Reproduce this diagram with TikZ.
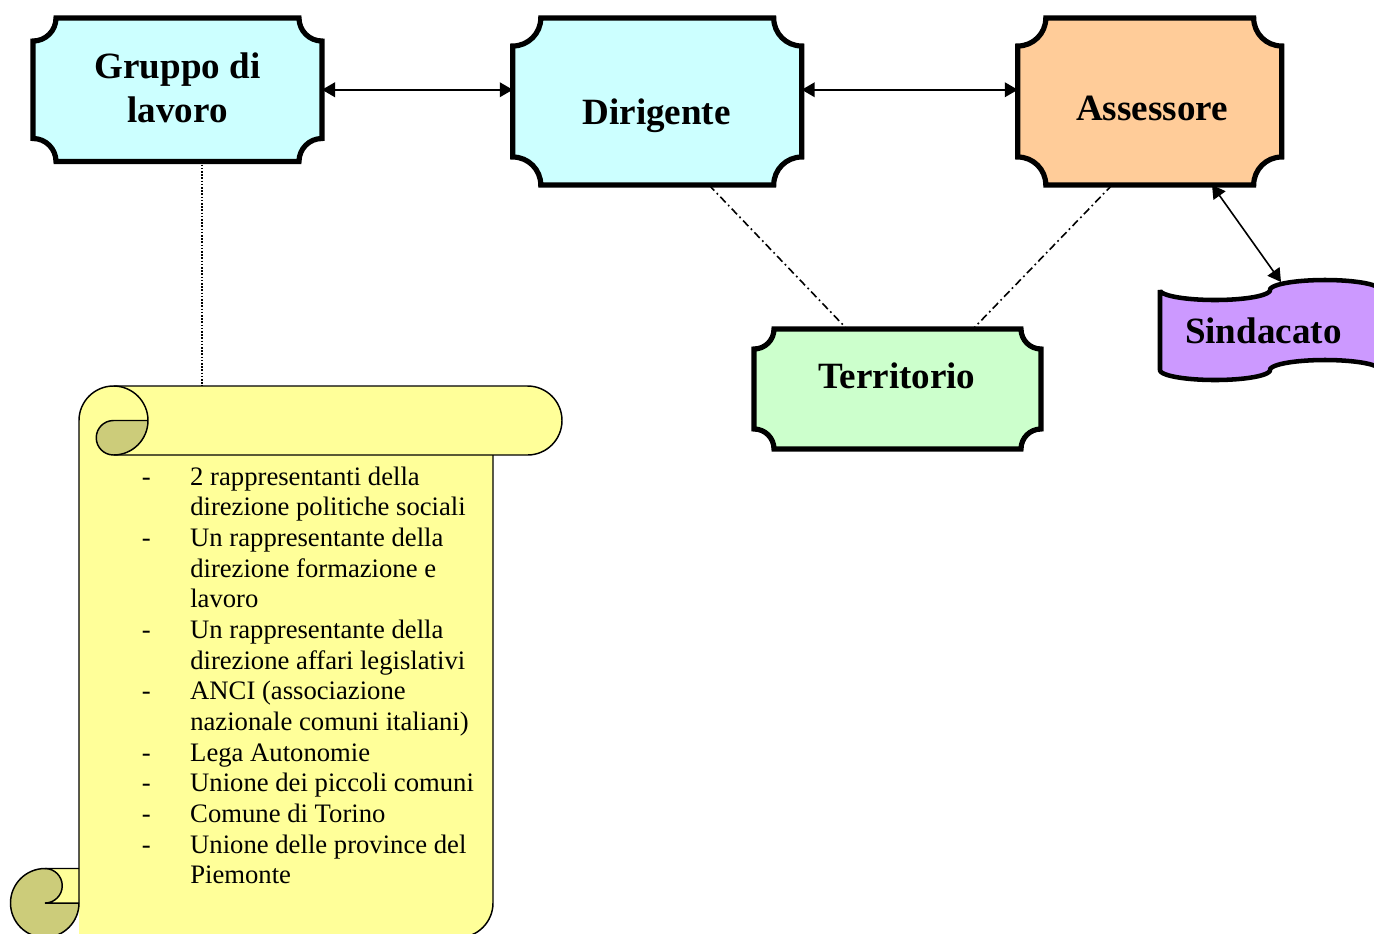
\documentclass[tikz,border=0pt]{standalone}
\usepackage{fontspec}
\setmainfont{Liberation Serif}
\usetikzlibrary{arrows.meta,backgrounds}
\definecolor{azzurro}{HTML}{CCFFFF}
\definecolor{arancio}{HTML}{FFCC99}
\definecolor{verde}{HTML}{CCFFCC}
\definecolor{viola}{HTML}{CC99FF}
\definecolor{giallo}{HTML}{FFFF99}
\definecolor{oliva}{HTML}{CCCC7A}
\newcommand{\targa}[3]{%
  \path[bordo, fill=#2]
    ([xshift=#3]#1.north west) -- ([xshift=-#3]#1.north east)
    arc[start angle=180, end angle=270, radius=#3]
    -- ([yshift=#3]#1.south east)
    arc[start angle=90, end angle=180, radius=#3]
    -- ([xshift=#3]#1.south west)
    arc[start angle=0, end angle=90, radius=#3]
    -- ([yshift=-#3]#1.north west)
    arc[start angle=270, end angle=360, radius=#3]
    -- cycle;}
\newcommand{\testo}[3]{\raisebox{-#2}[0pt][0pt]{\makebox[0pt]{\hspace{#1}#3}}}
\tikzset{
  box/.style={rectangle, inner sep=0pt, outer sep=0pt, font=\fontsize{27.8pt}{33pt}\selectfont\bfseries},
  bordo/.style={draw=black, line width=3.9pt, line join=miter},
  biarrow/.style={{Triangle[length=9.75pt,width=11pt]}-{Triangle[length=9.75pt,width=11pt]}, line width=1.2pt},
  puntini/.style={line width=1.1pt, dash pattern=on 1.1pt off 1.3pt},
  trattopunto/.style={line width=1.2pt, dash pattern=on 5.8pt off 2.6pt on 1.3pt off 2.6pt},
  rotololine/.style={draw=black, line width=1.1pt},
}
\begin{document}
\begin{tikzpicture}[x=0.75pt, y=-0.75pt]
\useasboundingbox (0,0) rectangle (1374,933);
% nodes
\node[box, minimum width=216.75pt, minimum height=107.6pt] (gruppo) at (177.5,89.75)
  {\testo{0pt}{24.2pt}{\begin{tabular}[b]{@{}c@{}}Gruppo di\\lavoro\end{tabular}}};
\node[box, minimum width=216.7pt, minimum height=125.25pt] (dirigente) at (657.25,101.5)
  {\testo{-1pt}{17.6pt}{Dirigente}};
\node[box, minimum width=197.9pt, minimum height=125.25pt] (assessore) at (1149.75,101.5)
  {\testo{3.4pt}{13.9pt}{Assessore}};
\node[box, minimum width=215.25pt, minimum height=90pt] (territorio) at (897.5,389)
  {\testo{-1pt}{-0.5pt}{Territorio}};
\node[box, minimum width=165pt, minimum height=60pt] (sindacato) at (1270,330)
  {\testo{-10pt}{10.3pt}{Sindacato}};
\node[rectangle, inner sep=0pt, minimum width=413.6pt, minimum height=413.6pt] (rotolo) at (286.25,661.75) {};
\node[anchor=base west, inner sep=0pt, font=\fontsize{20pt}{23pt}\selectfont] (elenco) at (141.6,485)
  {\begin{tabular}[t]{@{}p{36.3pt}@{}l@{}}
  - & 2 rappresentanti della\\
    & direzione politiche sociali\\
  - & Un rappresentante della\\
    & direzione formazione e\\
    & lavoro\\
  - & Un rappresentante della\\
    & direzione affari legislativi\\
  - & ANCI (associazione\\
    & nazionale comuni italiani)\\
  - & Lega Autonomie\\
  - & Unione dei piccoli comuni\\
  - & Comune di Torino\\
  - & Unione delle province del\\
    & Piemonte
  \end{tabular}};
% shapes
\begin{scope}[on background layer]
  \fill[white] (0,0) rectangle (1374,933);
  \targa{gruppo}{azzurro}{17.25pt}
  \targa{dirigente}{azzurro}{21pt}
  \targa{assessore}{arancio}{21pt}
  \targa{territorio}{verde}{15pt}
  \path[draw=black, line width=3.4pt, fill=viola]
    plot[domain=0:180, samples=45, variable=\t] ({1215-55*cos(\t)},{290+10*sin(\t)})
    -- plot[domain=0:180, samples=45, variable=\t] ({1325-55*cos(\t)},{290-10*sin(\t)})
    -- plot[domain=0:180, samples=45, variable=\t] ({1325+55*cos(\t)},{370-10*sin(\t)})
    -- plot[domain=0:180, samples=45, variable=\t] ({1215+55*cos(\t)},{370+10*sin(\t)})
    -- cycle;
  % scroll fills
  \fill[giallo] (79,420.5) arc[start angle=180,end angle=90,radius=25.875pt] -- (527.5,386)
    arc[start angle=90,end angle=-90,radius=25.875pt] -- (493,455) -- (493,903)
    arc[start angle=0,end angle=-90,radius=25.875pt] -- (79,937.5) -- cycle;
  \fill[oliva] (113.5,420.5) -- (148,420.5) arc[start angle=0,end angle=-90,radius=25.875pt]
    arc[start angle=-90,end angle=-270,radius=12.9375pt] -- cycle;
  \fill[oliva] (45,903) circle[radius=25.875pt];
  \fill[giallo] (45,868.5) rectangle (79,903);
  \fill[oliva] (45,868.5) arc[start angle=90,end angle=-90,radius=12.9375pt] -- cycle;
  % scroll outlines
  \draw[rotololine] (79,903) -- (79,420.5) arc[start angle=180,end angle=90,radius=25.875pt]
    -- (527.5,386) arc[start angle=90,end angle=-90,radius=25.875pt] -- (113.5,455);
  \draw[rotololine] (493,455) -- (493,903) arc[start angle=0,end angle=-90,radius=25.875pt]
    -- (45,937.5) arc[start angle=-90,end angle=-270,radius=25.875pt] -- (79,868.5);
  \draw[rotololine] (79,903) arc[start angle=0,end angle=-90,radius=25.875pt];
  \draw[rotololine] (45,868.5) arc[start angle=90,end angle=-90,radius=12.9375pt] -- (79,903);
  \draw[rotololine] (113.5,386) arc[start angle=90,end angle=-90,radius=25.875pt]
    arc[start angle=-90,end angle=-270,radius=12.9375pt] -- (148,420.5);
\end{scope}
% connectors
\draw[biarrow] (gruppo.east) -- (gruppo.east -| dirigente.west);
\draw[biarrow] (dirigente.east |- gruppo.east) -- (gruppo.east -| assessore.west);
\draw[biarrow] ([xshift=46.7pt]assessore.south) -- ([xshift=8.25pt,yshift=6pt]sindacato.north);
\draw[puntini] ([xshift=18.4pt]gruppo.south) -- ([xshift=18.4pt]gruppo.south |- rotolo.north);
\draw[trattopunto] ([xshift=38.8pt]dirigente.south) -- ([xshift=-37.9pt]territorio.north);
\draw[trattopunto] ([xshift=-28.3pt]assessore.south) -- ([xshift=56.6pt]territorio.north);
\end{tikzpicture}
\end{document}
